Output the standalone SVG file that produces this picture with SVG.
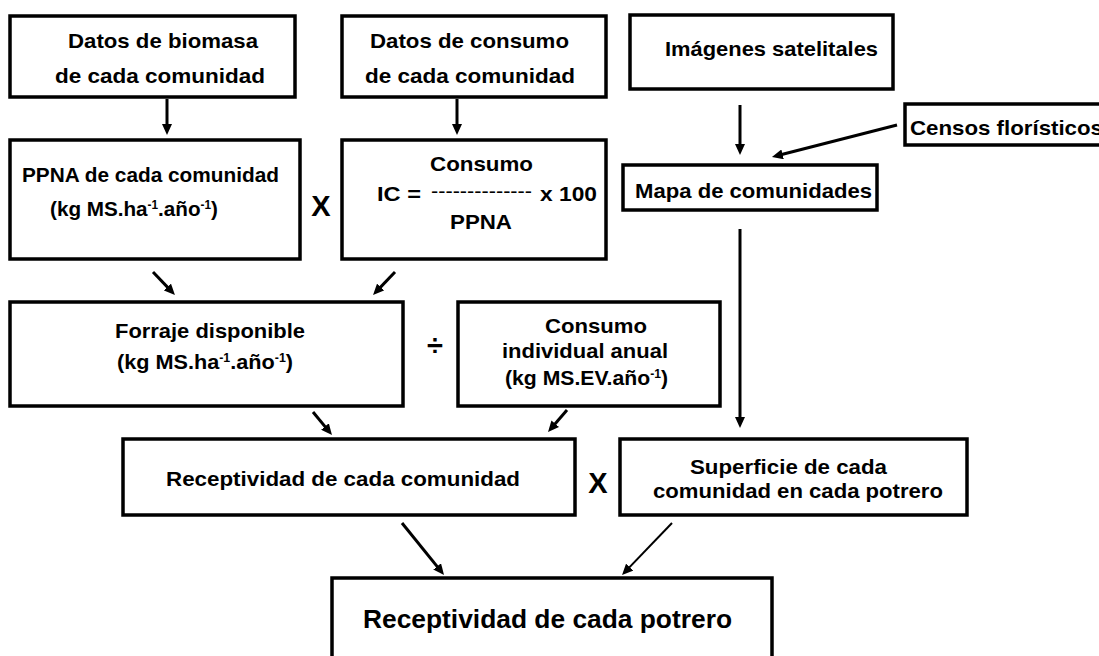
<svg xmlns="http://www.w3.org/2000/svg" width="1099" height="656" viewBox="0 0 1099 656">
<style>
.box{fill:#fff;stroke:#000;stroke-width:3.5}
.t{font-family:"Liberation Sans",Arial,Helvetica,sans-serif;font-weight:bold;font-size:21px;fill:#000}
.big{font-size:25px}
.op{font-size:29px}
.dash{font-weight:normal}
.sup{font-size:12px}
.c{fill:none;stroke:#000;stroke-width:3}
.thin{stroke-width:2}
</style>
<defs>
<marker id="ah" markerUnits="userSpaceOnUse" markerWidth="11" markerHeight="10" refX="6" refY="5" orient="auto">
<path d="M0,0 L11,5 L0,10 z" fill="#000"/>
</marker>
</defs>
<rect width="1099" height="656" fill="#fff"/>

<g id="connectors">
<line class="c" x1="167" y1="99" x2="167" y2="130" marker-end="url(#ah)"/>
<line class="c" x1="457" y1="99" x2="457" y2="130" marker-end="url(#ah)"/>
<line class="c" x1="740" y1="105" x2="740" y2="150" marker-end="url(#ah)"/>
<line class="c" x1="897" y1="125" x2="776.8" y2="155.8" marker-end="url(#ah)"/>
<line class="c" x1="153" y1="272" x2="171.5" y2="291.4" marker-end="url(#ah)"/>
<line class="c" x1="395" y1="272" x2="376.5" y2="291.4" marker-end="url(#ah)"/>
<line class="c" x1="740" y1="229" x2="740" y2="423" marker-end="url(#ah)"/>
<line class="c" x1="313" y1="412" x2="328.8" y2="431.1" marker-end="url(#ah)"/>
<line class="c" x1="567" y1="410" x2="551.3" y2="428.2" marker-end="url(#ah)"/>
<line class="c" x1="402" y1="523" x2="440.9" y2="571.1" marker-end="url(#ah)"/>
<line class="c thin" x1="672" y1="523" x2="625.5" y2="571.4" marker-end="url(#ah)"/>
</g>

<g id="datos-biomasa">
<rect class="box" x="10" y="16" width="285" height="81"/>
<text class="t" x="68" y="48" textLength="190" lengthAdjust="spacingAndGlyphs">Datos de biomasa</text>
<text class="t" x="55" y="83" textLength="210" lengthAdjust="spacingAndGlyphs">de cada comunidad</text>
</g>

<g id="datos-consumo">
<rect class="box" x="342" y="16" width="264" height="81"/>
<text class="t" x="370" y="48" textLength="199" lengthAdjust="spacingAndGlyphs">Datos de consumo</text>
<text class="t" x="365" y="83" textLength="210" lengthAdjust="spacingAndGlyphs">de cada comunidad</text>
</g>

<g id="ppna">
<rect class="box" x="10" y="140" width="290" height="119"/>
<text class="t" x="22" y="182" textLength="257" lengthAdjust="spacingAndGlyphs">PPNA de cada comunidad</text>
<text class="t" x="50" y="216" textLength="168" lengthAdjust="spacingAndGlyphs">(kg MS.ha<tspan class="sup" dy="-7">-1</tspan><tspan dy="7">.año</tspan><tspan class="sup" dy="-7">-1</tspan><tspan dy="7">)</tspan></text>
</g>

<g id="op-x1">
<text class="t op" x="321" y="216" text-anchor="middle">X</text>
</g>

<g id="ic">
<rect class="box" x="342" y="140" width="264" height="119"/>
<text class="t" x="430" y="171" textLength="103" lengthAdjust="spacingAndGlyphs">Consumo</text>
<text class="t" x="377" y="201" textLength="44" lengthAdjust="spacingAndGlyphs">IC =</text>
<text class="t dash" x="431" y="198" textLength="101" lengthAdjust="spacingAndGlyphs">--------------</text>
<text class="t" x="540" y="201" textLength="57" lengthAdjust="spacingAndGlyphs">x 100</text>
<text class="t" x="450" y="229" textLength="62" lengthAdjust="spacingAndGlyphs">PPNA</text>
</g>

<g id="imagenes">
<rect class="box" x="630" y="15" width="263" height="74"/>
<text class="t" x="665" y="56" textLength="213" lengthAdjust="spacingAndGlyphs">Imágenes satelitales</text>
</g>

<g id="censos">
<rect class="box" x="905" y="104" width="210" height="41"/>
<text class="t" x="910" y="135" textLength="193" lengthAdjust="spacingAndGlyphs">Censos florísticos</text>
</g>

<g id="mapa">
<rect class="box" x="623" y="165" width="254" height="45"/>
<text class="t" x="635" y="198" textLength="237" lengthAdjust="spacingAndGlyphs">Mapa de comunidades</text>
</g>

<g id="forraje">
<rect class="box" x="10" y="302" width="393" height="104"/>
<text class="t" x="115" y="338" textLength="190" lengthAdjust="spacingAndGlyphs">Forraje disponible</text>
<text class="t" x="117" y="369" textLength="176" lengthAdjust="spacingAndGlyphs">(kg MS.ha<tspan class="sup" dy="-7">-1</tspan><tspan dy="7">.año</tspan><tspan class="sup" dy="-7">-1</tspan><tspan dy="7">)</tspan></text>
</g>

<g id="op-div">
<text class="t op" x="435" y="355" text-anchor="middle">÷</text>
</g>

<g id="consumo-individual">
<rect class="box" x="458" y="302" width="262" height="104"/>
<text class="t" x="545" y="333" textLength="102" lengthAdjust="spacingAndGlyphs">Consumo</text>
<text class="t" x="502" y="358" textLength="166" lengthAdjust="spacingAndGlyphs">individual anual</text>
<text class="t" x="505" y="385" textLength="163" lengthAdjust="spacingAndGlyphs">(kg MS.EV.año<tspan class="sup" dy="-7">-1</tspan><tspan dy="7">)</tspan></text>
</g>

<g id="receptividad-comunidad">
<rect class="box" x="123" y="439" width="452" height="76"/>
<text class="t" x="166" y="486" textLength="354" lengthAdjust="spacingAndGlyphs">Receptividad de cada comunidad</text>
</g>

<g id="op-x2">
<text class="t op" x="598" y="493" text-anchor="middle">X</text>
</g>

<g id="superficie">
<rect class="box" x="620" y="439" width="347" height="76"/>
<text class="t" x="690" y="474" textLength="197" lengthAdjust="spacingAndGlyphs">Superficie de cada</text>
<text class="t" x="653" y="498" textLength="290" lengthAdjust="spacingAndGlyphs">comunidad en cada potrero</text>
</g>

<g id="receptividad-potrero">
<rect class="box" x="332" y="578" width="440" height="100"/>
<text class="t big" x="363" y="628" textLength="369" lengthAdjust="spacingAndGlyphs">Receptividad de cada potrero</text>
</g>
</svg>
